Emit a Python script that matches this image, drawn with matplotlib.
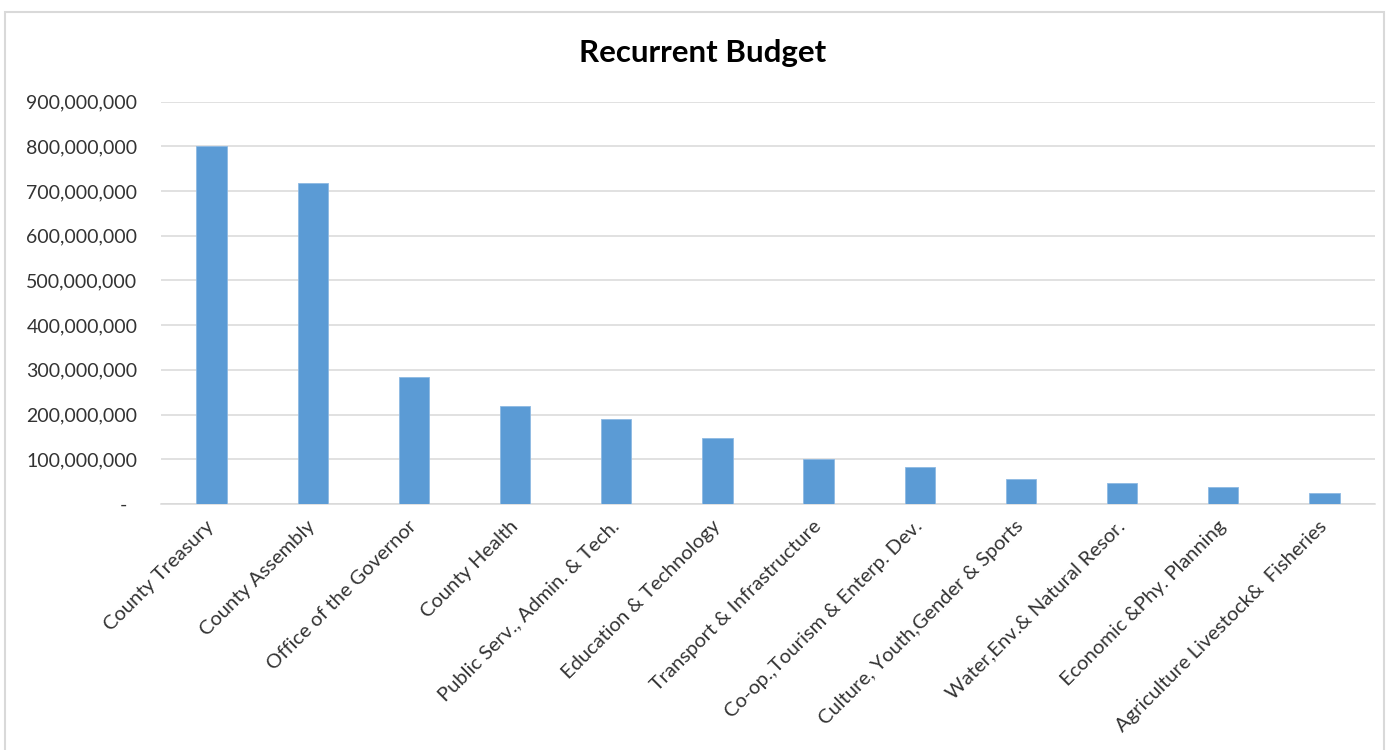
import matplotlib.pyplot as plt
from matplotlib.patches import Rectangle
from matplotlib.ticker import FuncFormatter

# recurrent budget per department (KSh)
departments = [
    'County Treasury',
    'County Assembly',
    'Office of the Governor',
    'County Health',
    'Public Serv., Admin. & Tech.',
    'Education & Technology',
    'Transport & Infrastructure',
    'Co-op.,Tourism & Enterp. Dev.',
    'Culture, Youth,Gender & Sports',
    'Water,Env.& Natural Resor.',
    'Economic &Phy. Planning',
    'Agriculture Livestock&  Fisheries',
]
budget = [
    800_000_000, 718_000_000, 283_500_000, 218_500_000,
    189_500_000, 148_500_000, 101_500_000, 83_500_000,
    55_500_000, 48_000_000, 37_500_000, 24_500_000,
]
y_ticks = [i * 100_000_000 for i in range(10)]

plt.rcParams['font.family'] = ['Lato', 'DejaVu Sans']

fig = plt.figure(figsize=(13.86, 7.5), dpi=100)
ax = fig.add_axes([161 / 1386, 246 / 750, 1214 / 1386, 402.5 / 750])

x = range(len(departments))
ax.bar(x, budget, width=0.3, color='#5B9BD5', edgecolor='#8DB9E3', linewidth=0.6, zorder=3)

ax.set_xlim(-0.5, len(departments) - 0.5)
ax.set_ylim(0, 900_000_000)
ax.set_yticks(y_ticks)
ax.yaxis.set_major_formatter(FuncFormatter(lambda v, p: f'{v:,.0f}' if v else '-  '))
ax.grid(axis='y', color='#D9D9D9', linewidth=1.1, zorder=0)
ax.set_axisbelow(True)

for side in ['top', 'right', 'left']:
    ax.spines[side].set_visible(False)
ax.spines['bottom'].set_color('#D9D9D9')
ax.spines['bottom'].set_linewidth(1.1)

ax.tick_params(axis='both', length=0, colors='#333333', labelsize=14)
ax.tick_params(axis='y', pad=17)
ax.set_xticks(list(x))
ax.set_xticklabels(departments, rotation=45, ha='right', va='center',
                   rotation_mode='anchor', fontsize=14.5)
ax.tick_params(axis='x', pad=14)

fig.text(703 / 1386, 1 - 53 / 750, 'Recurrent Budget', ha='center', va='center',
         fontsize=22.5, fontweight='bold', color='#000000')

# light frame around the chart area
fig.patches.append(Rectangle((5 / 1386, -0.05), 1379 / 1386, 1.05 - 12 / 750,
                             transform=fig.transFigure, fill=False,
                             edgecolor='#D9D9D9', linewidth=1.5))

fig.savefig('out.png', dpi=100, facecolor='white')
